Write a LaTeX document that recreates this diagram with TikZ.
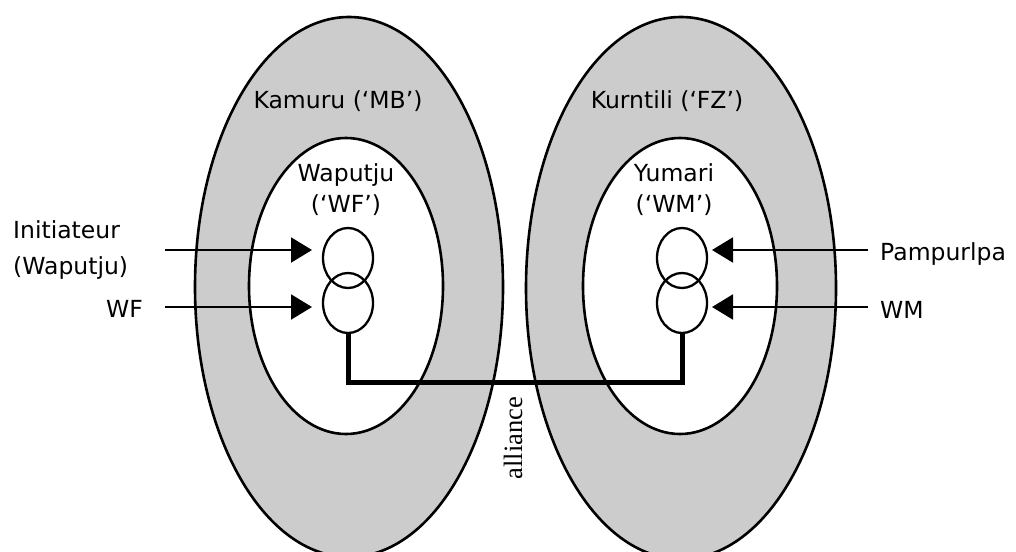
\documentclass[tikz,border=0pt]{standalone}
\usepackage{fontspec}
\usetikzlibrary{arrows.meta,shapes.geometric}
\newfontfamily\labelsans{DejaVu Sans}
\newfontfamily\labelserif{Liberation Serif}
\definecolor{bandgray}{HTML}{CCCCCC}
\begin{document}
\begin{tikzpicture}[x=1pt,y=-1pt,
  band/.style={fill=bandgray,draw=black,line width=2.6pt},
  core/.style={fill=white,draw=black,line width=2.6pt},
  person/.style={ellipse,draw=black,line width=2.3pt,minimum width=50pt,minimum height=60pt,inner sep=0pt},
  feed/.style={line width=2pt,-{Triangle[length=21pt,width=25pt]}},
  alliancebar/.style={line width=5pt},
  lbl/.style={font=\labelsans\fontsize{23.5}{31}\selectfont,inner sep=0pt,text=black},
  ]
\useasboundingbox (0,0) rectangle (1016,551);
\clip (0,0) rectangle (1016,551);
\fill[white] (0,0) rectangle (1016,551);
% outer bands
\draw[band] (349,287) ellipse [x radius=154pt, y radius=270pt];
\draw[band] (681,288) ellipse [x radius=155pt, y radius=271pt];
% inner cores
\draw[core] (346,286) ellipse [x radius=97pt, y radius=148pt];
\draw[core] (680,286) ellipse [x radius=97pt, y radius=148pt];
% labels
\node[lbl] (kamuru) at (338,101) {Kamuru (‘MB’)};
\node[lbl] (kurntili) at (667,101) {Kurntili (‘FZ’)};
\node[lbl,align=center] (waputju) at (346,190) {Waputju\\(‘WF’)};
\node[lbl,align=center] (yumari) at (674,190) {Yumari\\(‘WM’)};
\node[lbl,align=left,anchor=west,font=\labelsans\fontsize{23.5}{36}\selectfont] (init) at (13,250) {Initiateur\\(Waputju)};
\node[lbl,anchor=east] (wflbl) at (143,309) {WF};
\node[lbl,anchor=west] (pamp) at (880,254) {Pampurlpa};
\node[lbl,anchor=west] (wmlbl) at (880,310) {WM};
\node[font=\labelserif\fontsize{26.5}{30}\selectfont,rotate=90,inner sep=0pt] (alliance) at (513,438) {alliance};
% persons
\node[person] (wfa) at (348,258) {};
\node[person] (wfb) at (348,303) {};
\node[person] (wma) at (682,258) {};
\node[person] (wmb) at (682,303) {};
% feeding arrows
\coordinate (f1s) at (165,250); \coordinate (f1e) at (312,250);
\coordinate (f2s) at (165,307); \coordinate (f2e) at (312,307);
\coordinate (f3s) at (868,250); \coordinate (f3e) at (712,250);
\coordinate (f4s) at (868,307); \coordinate (f4e) at (712,307);
\draw[feed] (f1s) -- (f1e);
\draw[feed] (f2s) -- (f2e);
\draw[feed] (f3s) -- (f3e);
\draw[feed] (f4s) -- (f4e);
% alliance connector
\coordinate (barmid) at (515,382);
\draw[alliancebar] (wfb.south) |- (barmid) -| (wmb.south);
\end{tikzpicture}
\end{document}
